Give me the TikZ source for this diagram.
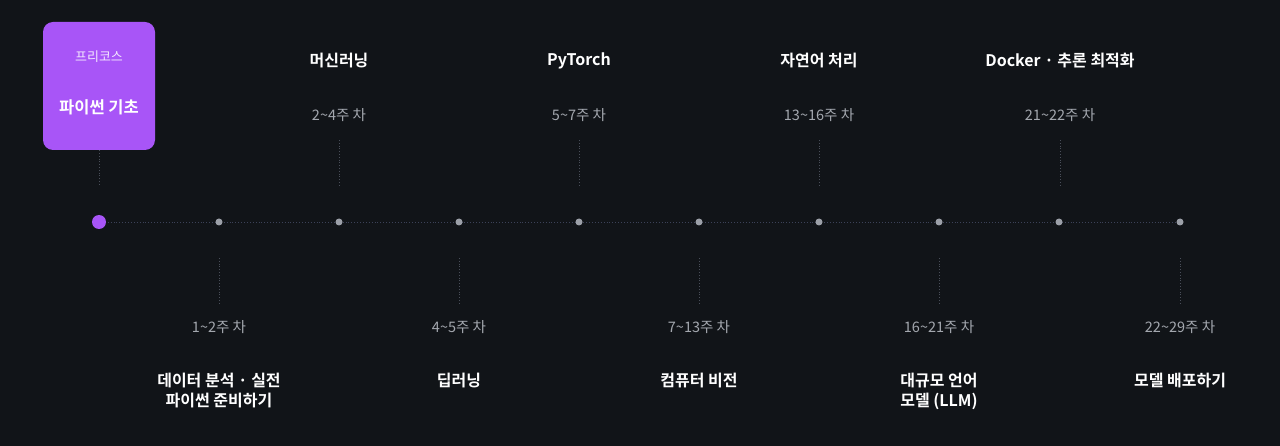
\documentclass[tikz,border=0pt]{standalone}
\usepackage{fontspec}
\setmainfont{Noto Sans CJK KR}
\newfontfamily\kb{Noto Sans CJK KR Bold}
\definecolor{bg}{HTML}{111418}
\definecolor{pur}{HTML}{A855F7}
\definecolor{tl}{HTML}{3C4258}
\definecolor{dotc}{HTML}{9CA0A8}
\definecolor{wk}{HTML}{A3A7AE}
\definecolor{vl}{HTML}{4A4F5A}
\begin{document}
\begin{tikzpicture}[x=1pt,y=-1pt,
  title/.style={text=white,font=\kb\fontsize{16}{20}\selectfont,align=center},
  week/.style={text=wk,font=\fontsize{14.5}{18}\selectfont},
  dotn/.style={circle,fill=dotc,inner sep=0,minimum size=7},
  vline/.style={draw=vl,dotted,line width=0.8}]
\fill[bg] (0,0) rectangle (1280,446);
\useasboundingbox (0,0) rectangle (1280,446);
\node[fill=pur,rounded corners=10,minimum width=112,minimum height=128,inner sep=0] (box) at (99,86) {};
\node[text=white!85!pur,font=\fontsize{13}{16}\selectfont] (pre) at (99,57) {프리코스};
\node[text=white,font=\kb\fontsize{16.5}{20}\selectfont] (py) at (99,107) {파이썬 기초};
\draw[tl,dotted,line width=0.9] (99,222) -- (1180,222);
\node[circle,fill=pur,inner sep=0,minimum size=14] (d0) at (99,222) {};
\draw[vline] (box.south) -- (99,185);
\foreach \i/\x in {1/219,2/339,3/459,4/579,5/699,6/819,7/939,8/1059,9/1180}{
  \node[dotn] (d\i) at (\x,222) {};
}
\foreach \i/\x/\t/\w in {2/339/머신러닝/2\textasciitilde4주 차,4/579/PyTorch/5\textasciitilde7주 차,6/819/자연어 처리/13\textasciitilde16주 차,8/1060/Docker · 추론 최적화/21\textasciitilde22주 차}{
  \node[title] (t\i) at (\x,61) {\t};
  \node[week] (w\i) at (\x,115) {\w};
  \draw[vline] (\x,140) -- (\x,185);
}
\foreach \i/\x/\t/\w in {1/219/{데이터 분석 · 실전\\파이썬 준비하기}/1\textasciitilde2주 차,3/459/딥러닝/4\textasciitilde5주 차,5/699/컴퓨터 비전/7\textasciitilde13주 차,7/939/{대규모 언어\\모델 (LLM)}/16\textasciitilde21주 차,9/1180/모델 배포하기/22\textasciitilde29주 차}{
  \node[week] (w\i) at (\x,327) {\w};
  \node[title,anchor=north] (t\i) at (\x,370) {\t};
  \draw[vline] (\x,258) -- (\x,305);
}
\end{tikzpicture}
\end{document}
